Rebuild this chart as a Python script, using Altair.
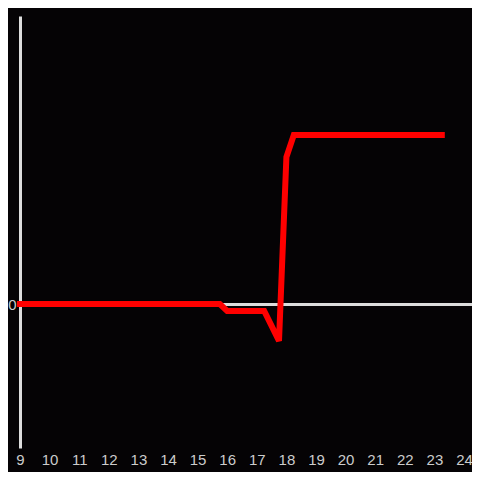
import altair as alt
import pandas as pd

hours = [9.0, 15.75, 16.0, 17.25, 17.75, 18.0, 18.25, 23.25]
values = [0.0, 0.0, -2.4, -2.4, -12.8, 51.0, 58.7, 58.7]
x_ticks = list(range(9, 25))

df = pd.DataFrame({"hour": hours, "value": values})

bg = "#050305"
axis_grey = "#dddddd"

line = alt.Chart(df).mark_line(
    color="#ff0000", strokeWidth=6, strokeCap="square", strokeJoin="miter", clip=False
).encode(
    x=alt.X("hour:Q",
            scale=alt.Scale(domain=[9, 24.27], nice=False, zero=False),
            axis=alt.Axis(values=x_ticks, title=None, domain=False, ticks=False,
                          grid=False, labelFlush=False, labelColor="#cccccc",
                          labelFont="Liberation Sans", labelFontSize=15,
                          labelPadding=4, labelOverlap=False)),
    y=alt.Y("value:Q",
            scale=alt.Scale(domain=[-50, 100], nice=False, zero=False),
            axis=alt.Axis(values=[0], title=None, domain=True, domainColor=axis_grey,
                          domainWidth=3, ticks=False, grid=True, gridColor=axis_grey,
                          gridWidth=3, gridOpacity=1, labelColor="#cccccc",
                          labelFont="Liberation Sans", labelFontSize=15,
                          labelPadding=4)),
)

chart = line.properties(
    width=452, height=432, background=bg,
    autosize=alt.AutoSizeParams(type="none"),
    padding={"left": 12, "top": 8, "right": 0, "bottom": 24},
).configure_view(stroke=None)

chart.save("out.html", embed_options={"renderer": "svg", "actions": False})
